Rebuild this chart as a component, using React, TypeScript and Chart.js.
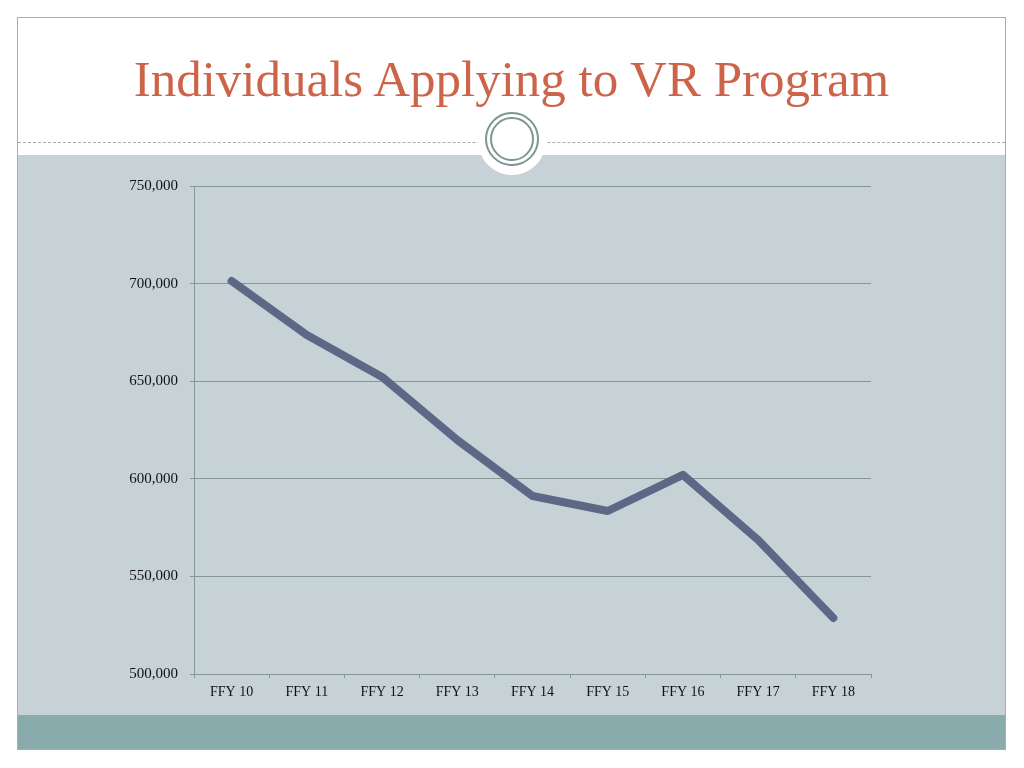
import React, { useEffect, useRef } from "react";
import { Chart, registerables } from "chart.js";

Chart.register(...registerables);

const categories = ["FFY 10", "FFY 11", "FFY 12", "FFY 13", "FFY 14", "FFY 15", "FFY 16", "FFY 17", "FFY 18"];
const applicants = [701300, 673700, 652200, 619900, 591200, 583500, 602000, 568600, 528700];
const yMin = 500000;
const yMax = 750000;
const yStep = 50000;

const FONT = "'Liberation Serif', 'DejaVu Serif', serif";

export default function App() {
  const ref = useRef<HTMLCanvasElement | null>(null);

  useEffect(() => {
    if (!ref.current) return;
    const chart = new Chart(ref.current, {
      type: "line",
      data: {
        labels: categories,
        datasets: [
          {
            data: applicants,
            borderColor: "#5d6886",
            borderWidth: 8,
            pointRadius: 0,
            tension: 0,
            borderCapStyle: "round",
            borderJoinStyle: "round",
            fill: false,
          },
        ],
      },
      options: {
        animation: false,
        responsive: false,
        maintainAspectRatio: false,
        layout: { padding: { top: 31, right: 135, bottom: 0, left: 0 } },
        plugins: { legend: { display: false }, tooltip: { enabled: false }, title: { display: false } },
        scales: {
          x: {
            offset: true,
            afterFit: (s: any) => {
              s.height = 41;
            },
            grid: {
              offset: true,
              drawOnChartArea: false,
              drawTicks: true,
              tickLength: 4,
              color: "#879597",
            },
            border: { display: true, color: "#879597", width: 1 },
            ticks: {
              color: "#111",
              padding: 6,
              maxRotation: 0,
              font: { family: FONT, size: 14 },
            },
          },
          y: {
            min: yMin,
            max: yMax,
            afterFit: (s: any) => {
              s.width = 177;
            },
            grid: {
              color: "#879597",
              tickLength: 4,
              lineWidth: 1,
            },
            border: { display: true, color: "#879597", width: 1 },
            ticks: {
              stepSize: yStep,
              color: "#111",
              padding: 12,
              font: { family: FONT, size: 15 },
              callback: (v: any) => Number(v).toLocaleString("en-US"),
            },
          },
        },
      },
    });
    return () => chart.destroy();
  }, []);

  return (
    <div style={{ position: "relative", width: 1024, height: 768, margin: -8, background: "#fff", overflow: "hidden" }}>
      <div
        style={{
          position: "absolute",
          left: 17,
          top: 17,
          width: 989,
          height: 733,
          border: "1px solid #9fb0b0",
          boxSizing: "border-box",
          background: "#fff",
        }}
      />
      <div style={{ position: "absolute", left: 18, top: 155, width: 987, height: 560, background: "#c6d2d6" }} />
      <div style={{ position: "absolute", left: 18, top: 715, width: 987, height: 34, background: "#8aabab" }} />
      <div
        style={{
          position: "absolute",
          left: 18,
          top: 142,
          width: 987,
          height: 0,
          borderTop: "1px dashed #a6afaf",
        }}
      />
      <div
        style={{
          position: "absolute",
          left: 512 - 34,
          top: 141 - 34,
          width: 68,
          height: 68,
          borderRadius: "50%",
          background: "#fff",
        }}
      />
      <div
        style={{
          position: "absolute",
          left: 512 - 27,
          top: 139 - 27,
          width: 54,
          height: 54,
          borderRadius: "50%",
          border: "2px solid #7f9593",
          boxSizing: "border-box",
        }}
      />
      <div
        style={{
          position: "absolute",
          left: 512 - 22,
          top: 139 - 22,
          width: 44,
          height: 44,
          borderRadius: "50%",
          border: "2px solid #7f9593",
          boxSizing: "border-box",
        }}
      />
      <div
        style={{
          position: "absolute",
          left: 18,
          top: 47,
          width: 987,
          textAlign: "center",
          fontFamily: FONT,
          fontSize: 51,
          lineHeight: "64px",
          color: "#cd644a",
        }}
      >
        Individuals Applying to VR Program
      </div>
      <canvas ref={ref} width={989} height={560} style={{ position: "absolute", left: 17, top: 155, width: 989, height: 560 }} />
    </div>
  );
}
